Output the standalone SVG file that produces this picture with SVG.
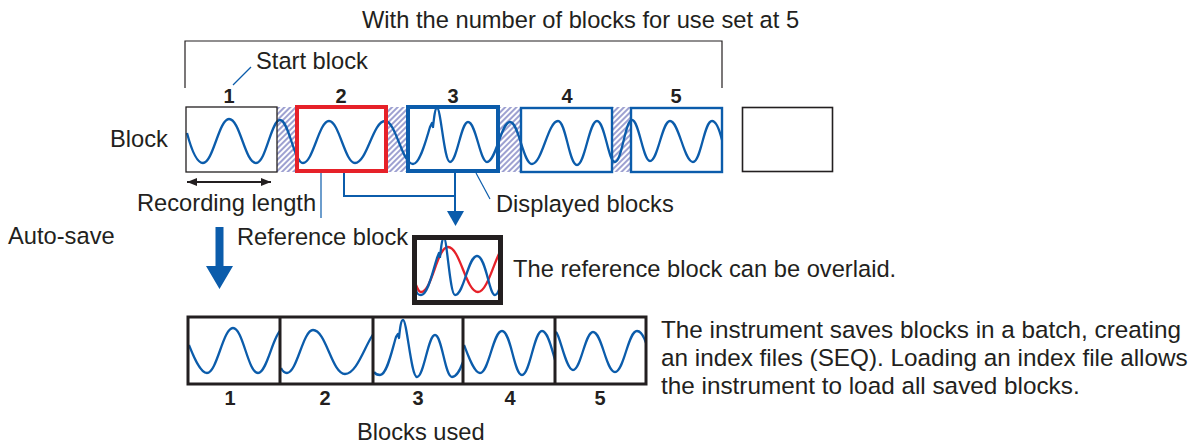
<svg xmlns="http://www.w3.org/2000/svg" width="1192" height="443" viewBox="0 0 1192 443">
<style>
.t{font-family:"Liberation Sans",Arial,sans-serif;font-size:23.7px;fill:#231f20}
.p{font-size:24.3px}
.n{font-family:"Liberation Sans",Arial,sans-serif;font-size:20px;font-weight:bold;fill:#231f20;text-anchor:middle}
.w{fill:none;stroke:#0b5cab;stroke-width:2.3;stroke-linejoin:round}
.r{fill:none;stroke:#e62129;stroke-width:2.3}
.lead{fill:none;stroke:#0b5cab;stroke-width:1.2}
.conn{fill:none;stroke:#0b5cab;stroke-width:2}
</style>
<defs>
<pattern id="hatch" width="4" height="4" patternUnits="userSpaceOnUse" patternTransform="rotate(45)">
<rect width="4" height="4" fill="#fff"/>
<line x1="1" y1="0" x2="1" y2="4" stroke="#9ea1d1" stroke-width="2"/>
</pattern>
<marker id="ah" viewBox="0 0 10 8" refX="10" refY="4" markerWidth="10" markerHeight="8" markerUnits="userSpaceOnUse" orient="auto-start-reverse">
<path d="M0,0 L10,4 L0,8 Z" fill="#231f20"/>
</marker>
<clipPath id="cOv"><rect x="417" y="240" width="81" height="60"/></clipPath>
<clipPath id="c1"><rect x="188" y="317" width="92" height="67"/></clipPath>
<clipPath id="c2"><rect x="280" y="317" width="93" height="67"/></clipPath>
<clipPath id="c3"><rect x="373" y="317" width="90" height="67"/></clipPath>
<clipPath id="c4"><rect x="463" y="317" width="92" height="67"/></clipPath>
<clipPath id="c5"><rect x="555" y="317" width="91" height="67"/></clipPath>
</defs>
<rect width="1192" height="443" fill="#fff"/>

<g id="title">
<text class="t" x="362" y="28">With the number of blocks for use set at 5</text>
<path d="M185,88 V41 H722 V88" fill="none" stroke="#231f20" stroke-width="1.2"/>
</g>

<g id="labels">
<text class="t" x="256" y="69">Start block</text>
<text class="t" x="110" y="147">Block</text>
<text class="t" x="137" y="211">Recording length</text>
<text class="t" x="496" y="212">Displayed blocks</text>
<text class="t" x="8" y="244">Auto-save</text>
<text class="t" x="237" y="245">Reference block</text>
<text class="t" x="513" y="277">The reference block can be overlaid.</text>
<text class="t p" x="661" y="338">The instrument saves blocks in a batch, creating</text>
<text class="t p" x="661" y="366">an index files (SEQ). Loading an index file allows</text>
<text class="t p" x="661" y="394">the instrument to load all saved blocks.</text>
<text class="t" x="357" y="440">Blocks used</text>
</g>

<g id="hatches">
<rect x="277" y="107" width="19" height="65" fill="url(#hatch)"/>
<rect x="388" y="107" width="18" height="65" fill="url(#hatch)"/>
<rect x="500" y="107" width="20" height="65" fill="url(#hatch)"/>
<rect x="612" y="107" width="18" height="65" fill="url(#hatch)"/>
</g>

<g id="waveTop">
<path class="w" d="M187,133 C192,152 197,163 203,163 C213,163 219,119 229,119 C240,119 245,163 256,163 C266,163 271,120 280,120 C289,120 294,163 303,163 C313,163 319,121 329,121 C339,121 345,163 355,163 C367,163 373,121 385,121 C396,121 402,164 413,164 C420,164 426,140 430,127 L432,123 L433,127 C434,118 435,108 437,108 C441,108 444,162 450,162 C457,162 461,122 468,122 C476,122 480,162 487,162 C496,162 501,122 510,122 C519,122 523,164 532,164 C542,164 548,121 558,121 C566,121 569,165 577,165 C585,165 589,121 597,121 C605,121 608,162 615,162 C622,162 625,120 632,120 C639,120 643,161 650,161 C658,161 662,121 670,121 C679,121 684,162 693,162 C701,162 704,121 712,121 C717,121 720,132 722,140"/>
</g>

<g id="block1">
<rect x="186" y="107" width="91" height="65" fill="none" stroke="#231f20" stroke-width="1.3"/>
<text class="n" x="229" y="103">1</text>
</g>
<g id="block2">
<rect x="297" y="107" width="89" height="64" fill="none" stroke="#e62129" stroke-width="4"/>
<text class="n" x="341" y="103">2</text>
</g>
<g id="block3">
<rect x="408" y="107" width="90" height="64" fill="none" stroke="#0b5cab" stroke-width="4"/>
<text class="n" x="453" y="103">3</text>
</g>
<g id="block4">
<rect x="521" y="108" width="91" height="64" fill="none" stroke="#0b5cab" stroke-width="2.4"/>
<text class="n" x="567" y="103">4</text>
</g>
<g id="block5">
<rect x="631" y="108" width="91" height="64" fill="none" stroke="#0b5cab" stroke-width="2.4"/>
<text class="n" x="676" y="103">5</text>
</g>
<g id="blockEmpty">
<rect x="742.5" y="107.5" width="90" height="64" fill="none" stroke="#231f20" stroke-width="1.6"/>
</g>

<g id="overlay">
<rect x="414.5" y="237.5" width="86" height="65" fill="#fff" stroke="#231f20" stroke-width="5"/>
<g clip-path="url(#cOv)">
<path class="r" d="M416,285 C418,290 419,292 421,292 C432,292 437,247 448,247 C460,247 466,292 478,292 C487,292 494,262 500,252"/>
<path class="w" d="M416,290 C417,294 418,295 421,295 C428,295 433,270 437,258 L439,253 L440,257 C441,248 442,238 444,238 C447,238 450,295 455,295 C464,295 468,256 477,256 C486,256 489,295 495,295 C498,295 499,290 500,286"/>
</g>
</g>

<g id="savedBlocks">
<g clip-path="url(#c1)"><path class="w" d="M189,345 C193,355 200,373 207,373 C217,373 223,328 233,328 C243,328 248,373 258,373 C267,373 273,335 281,330"/></g>
<g clip-path="url(#c2)"><path class="w" d="M281,368 C283,372 285,373 287,373 C297,373 303,330 313,330 C326,330 332,374 345,374 C357,374 365,345 374,333"/></g>
<g clip-path="url(#c3)"><path class="w" d="M374,372 C376,375 378,375 380,375 C387,375 392,350 396,337 L398,334 L399,338 C400,328 401,320 403,320 C407,320 411,377 417,377 C424,377 428,335 435,335 C442,335 445,377 452,377 C457,377 460,370 463,362"/></g>
<g clip-path="url(#c4)"><path class="w" d="M464,345 C468,355 474,373 480,373 C489,373 493,331 502,331 C511,331 514,375 522,375 C530,375 534,331 542,331 C548,331 552,350 555,360"/></g>
<g clip-path="url(#c5)"><path class="w" d="M556,332 C560,335 566,370 573,370 C581,370 585,332 593,332 C602,332 606,372 615,372 C624,372 628,331 637,331 C641,331 644,337 646,343"/></g>
<rect x="188" y="317" width="458" height="67" fill="none" stroke="#231f20" stroke-width="3"/>
<path d="M280,317 V384 M373,317 V384 M463,317 V384 M555,317 V384" stroke="#231f20" stroke-width="3"/>
<text class="n" x="230" y="405">1</text>
<text class="n" x="325" y="405">2</text>
<text class="n" x="418" y="405">3</text>
<text class="n" x="510" y="405">4</text>
<text class="n" x="600" y="405">5</text>
</g>

<g id="connectors">
<line class="lead" x1="233" y1="85" x2="251" y2="67"/>
<line x1="187" y1="182" x2="271" y2="182" stroke="#231f20" stroke-width="1.8" marker-start="url(#ah)" marker-end="url(#ah)"/>
<line class="lead" x1="321" y1="173" x2="321" y2="218"/>
<path class="conn" d="M344,173 V196 H455 M455,173 V212"/>
<path d="M447,211 H464 L455.5,226 Z" fill="#0b5cab"/>
<line class="lead" x1="476" y1="173" x2="490" y2="199"/>
<path d="M215.5,227 H223.5 V266 H233 L219.5,289 L206,266 H215.5 Z" fill="#0b5cab"/>
</g>
</svg>
